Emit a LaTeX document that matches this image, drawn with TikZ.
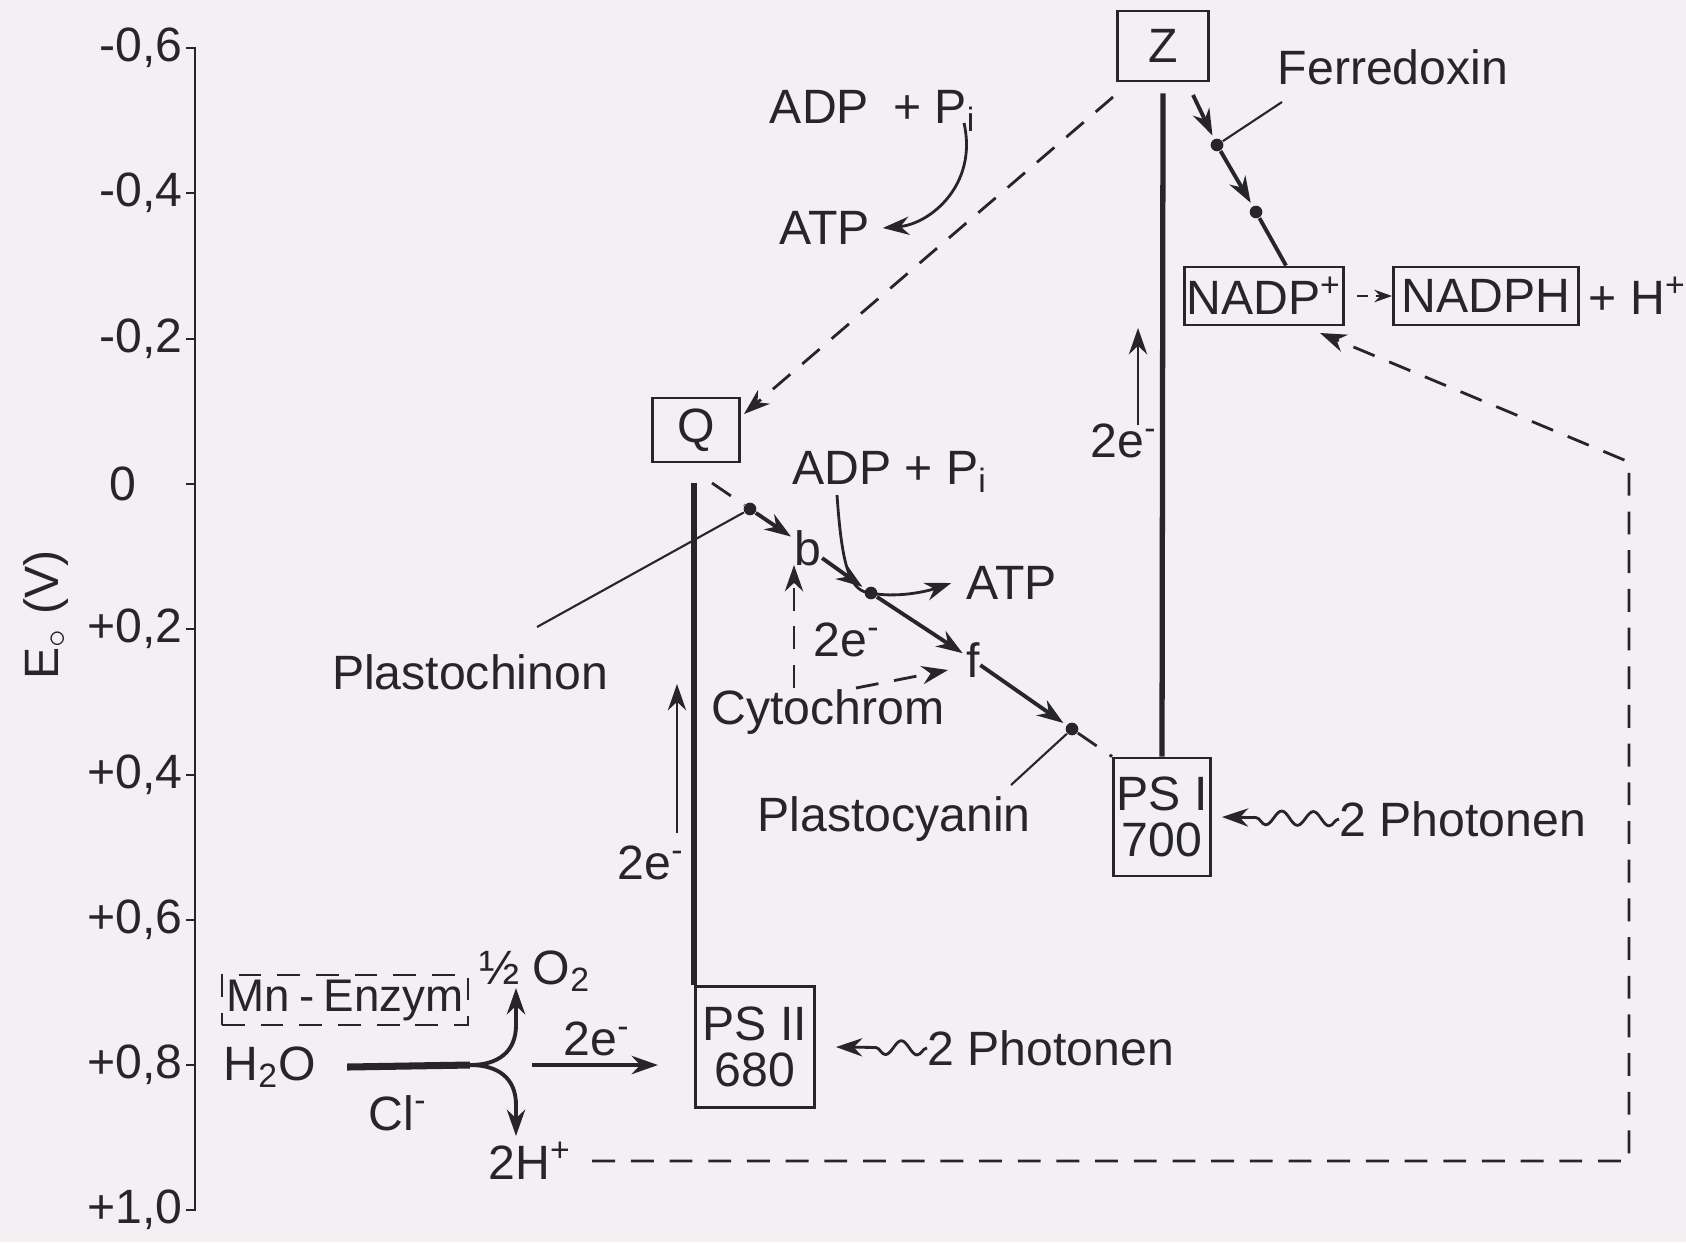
\documentclass[tikz,border=0pt]{standalone}
\usepackage{fontspec}
\setmainfont{Liberation Sans}
\usetikzlibrary{arrows.meta,decorations.pathmorphing}
\definecolor{paper}{RGB}{243,239,242}
\definecolor{ink}{RGB}{38,38,40}

\begin{document}
\begin{tikzpicture}[x=0.01cm, y=-0.01cm, >={Stealth[length=7.5pt,width=5.2pt]},
  font=\fontsize{13.7}{13}\selectfont,
  every node/.style={text=ink, inner sep=0pt},
  box/.style={draw=ink, line width=0.8pt, align=center},
  axisline/.style={draw=ink, line width=0.8pt},
  psline/.style={draw=ink, line width=1.5pt},
  chain/.style={->, draw=ink, line width=1.1pt, shorten >=1pt},
  leader/.style={draw=ink, line width=0.6pt},
  flow/.style={->, draw=ink, line width=0.8pt},
  dashline/.style={draw=ink, line width=0.8pt, dash pattern=on 6.5pt off 4.5pt},
  dashflow/.style={dashline, ->},
  photon/.style={->, draw=ink, line width=0.8pt, decorate,
    decoration={snake, amplitude=2pt, segment length=9pt, post length=9pt}},
  dot/.style={circle, fill=ink, minimum size=3.6pt}]

  % Paper
  \fill[paper] (0,0) rectangle (1686,1242);
  \useasboundingbox (0,0) rectangle (1686,1242);

  % Axis
  \draw[axisline] (186,48) -- (195,48) -- (195,1210) -- (186,1210);
  \foreach \yy/\lab in {48/{-0,6},193/{-0,4},339/{-0,2},629/{+0,2},775/{+0,4},920/{+0,6},1065/{+0,8},1210/{+1,0}} {
    \draw[axisline] (186,\yy) -- (195,\yy);
    \node[anchor=east] (tick\yy) at (183,\yy) {\lab};
  }
  \draw[axisline] (186,484) -- (195,484);
  \node[anchor=east] (tick484) at (137,484) {0};
  \node[rotate=90] (elab) at (46,615) {E$_\circ$ (V)};

  % Boxes
  \node[box, minimum width=0.91cm, minimum height=0.70cm] (Z) at (1163,46) {Z};
  \node[box, minimum width=0.97cm, minimum height=1.18cm] (PSI) at (1162,817) {PS I\\700};
  \node[box, minimum width=1.19cm, minimum height=1.21cm] (PSII) at (755,1047) {PS II\\680};
  \node[box, minimum width=0.87cm, minimum height=0.64cm] (Q) at (696,430) {Q};
  \node[box, minimum width=1.59cm, minimum height=0.58cm] (nadp) at (1264,296) {NADP\textsuperscript{+}};
  \node[box, minimum width=1.85cm, minimum height=0.58cm] (nadph) at (1486,296) {NADPH};
  \node[anchor=west] (hplus) at (1588,296) {+ H\textsuperscript{+}};

  % Labels
  \node (ferre) at (1393,67) {Ferredoxin};
  \node (adpA) at (873,111) {ADP\enspace+ P\textsubscript{i}};
  \node (atpA) at (825,228) {ATP};
  \node (adpB) at (890,472) {ADP + P\textsubscript{i}};
  \node (atpB) at (1012,583) {ATP};
  \node (bcyt) at (808,548) {b};
  \node (fcyt) at (973,660) {f};
  \node (cyto) at (828,712) {Cytochrom};
  \node (pchin) at (470,672) {Plastochinon};
  \node (pcyan) at (894,819) {Plastocyanin};
  \node (eI) at (1124,441) {2e\textsuperscript{-}};
  \node (eCyt) at (847,640) {2e\textsuperscript{-}};
  \node (eII) at (651,863) {2e\textsuperscript{-}};
  \node (eW) at (597,1039) {2e\textsuperscript{-}};
  \node[anchor=west] (photI) at (1339,819) {2 Photonen};
  \node[anchor=west] (photII) at (927,1048) {2 Photonen};
  \node (water) at (270,1067) {H\textsubscript{2}O};
  \node (oxy) at (535,971) {½ O\textsubscript{2}};
  \node (hpl) at (530,1161) {2H\textsuperscript{+}};
  \node (chl) at (398,1113) {Cl\textsuperscript{-}};
  \node[dashline, minimum width=2.46cm, minimum height=0.50cm,
    font=\fontsize{13}{13}\selectfont] (mn) at (345,1000) {Mn\hspace{0.2em}-\hspace{0.2em}Enzym};

  % Carrier dots
  \node[dot] (pqdot) at (750,509) {};
  \node[dot] (cdot) at (871,593) {};
  \node[dot] (pcdot) at (1072,729) {};
  \node[dot] (fd1) at (1217,145) {};
  \node[dot] (fd2) at (1256,212) {};

  % Free ends
  \coordinate (qfoot) at ([yshift=-2mm]Q.south);
  \coordinate (zfd) at (1193,95);
  \coordinate (ferrel) at (1282,102);
  \coordinate (qtip) at (744,414);
  \coordinate (zq) at (1113,97);
  \coordinate (qdash) at (712,483);
  \coordinate (pchinl) at (537,627);
  \coordinate (pcyanl) at (1011,785);
  \coordinate (cytup) at (794,688);
  \coordinate (cyttop) at (794,565);
  \coordinate (cytr) at (856,688);
  \coordinate (ftip) at (948,670);
  \coordinate (upIa) at (1138,425);
  \coordinate (upIb) at (1138,328);
  \coordinate (upIIa) at (677,833);
  \coordinate (upIIb) at (677,684);
  \coordinate (cornerT) at (1629,462);
  \coordinate (nadptip) at (1320,333);
  \coordinate (fork) at (470,1065);
  \coordinate (oxytip) at (516,988);
  \coordinate (hpltip) at (516,1136);
  \coordinate (wa) at (532,1065);
  \coordinate (wb) at (658,1065);

  % Photosystem levels
  \draw[psline] ([yshift=-1.1mm]Z.south) -- (PSI.north);
  \draw[psline] (PSII.north west) -- (PSII.north west |- qfoot);

  % Electron path Z -> NADP+
  \draw[chain] (zfd) -- (fd1);
  \draw[chain] (fd1) -- (fd2);
  \draw[draw=ink, line width=1.1pt] (fd2) -- ([xshift=2.2mm]nadp.north);
  \draw[leader] (ferrel) -- (fd1);
  \draw[dashflow, dash pattern=on 3pt off 2.5pt, >={Stealth[length=5pt,width=3.5pt]}]
    ([xshift=1.2mm]nadp.east) -- (nadph.west);
  \draw[dashflow] (zq) -- (qtip);

  % Photophosphorylation (cyclic)
  \draw[flow] (964,123) .. controls (978,185) and (930,224) .. ([xshift=1.2mm]atpA.east);

  % Q -> cytochrome -> plastocyanin -> PS I
  \draw[dashline] (qdash) -- (pqdot);
  \draw[leader] (pqdot) -- (pchinl);
  \draw[chain] (pqdot) -- (bcyt);
  \draw[chain] (bcyt) -- (cdot);
  \draw[chain] (cdot) -- (fcyt);
  \draw[chain] (fcyt) -- (pcdot);
  \draw[dashline] (pcdot) -- (PSI.north west);
  \draw[leader] (pcdot) -- (pcyanl);
  \draw[flow] (837,495) .. controls (842,568) and (850,592) .. (cdot.center)
    .. controls (895,598) and (925,592) .. ([xshift=-1.5mm]atpB.west);
  \draw[dashflow] (cytup) -- (cyttop);
  \draw[dashflow] (cytr) -- (ftip);

  % Excitation
  \draw[flow] (upIa) -- (upIb);
  \draw[flow] (upIIa) -- (upIIb);
  \draw[photon] (photI.west) -- ([xshift=1mm]PSI.east);
  \draw[photon] (photII.west) -- ([xshift=2mm]PSII.east);

  % Water splitting
  \draw[draw=ink, line width=2pt] ([xshift=3mm]water.east) -- (fork);
  \draw[flow, line width=1.1pt] (fork) .. controls (498,1065) and (516,1052) .. (516,1025) -- (oxytip);
  \draw[flow, line width=1.1pt] (fork) .. controls (498,1065) and (516,1078) .. (516,1105) -- (hpltip);
  \draw[flow, line width=1.1pt] (wa) -- (wb);

  % Return path
  \draw[dashflow] ([xshift=2mm]hpl.east) -| (cornerT) -- (nadptip);
\end{tikzpicture}
\end{document}
